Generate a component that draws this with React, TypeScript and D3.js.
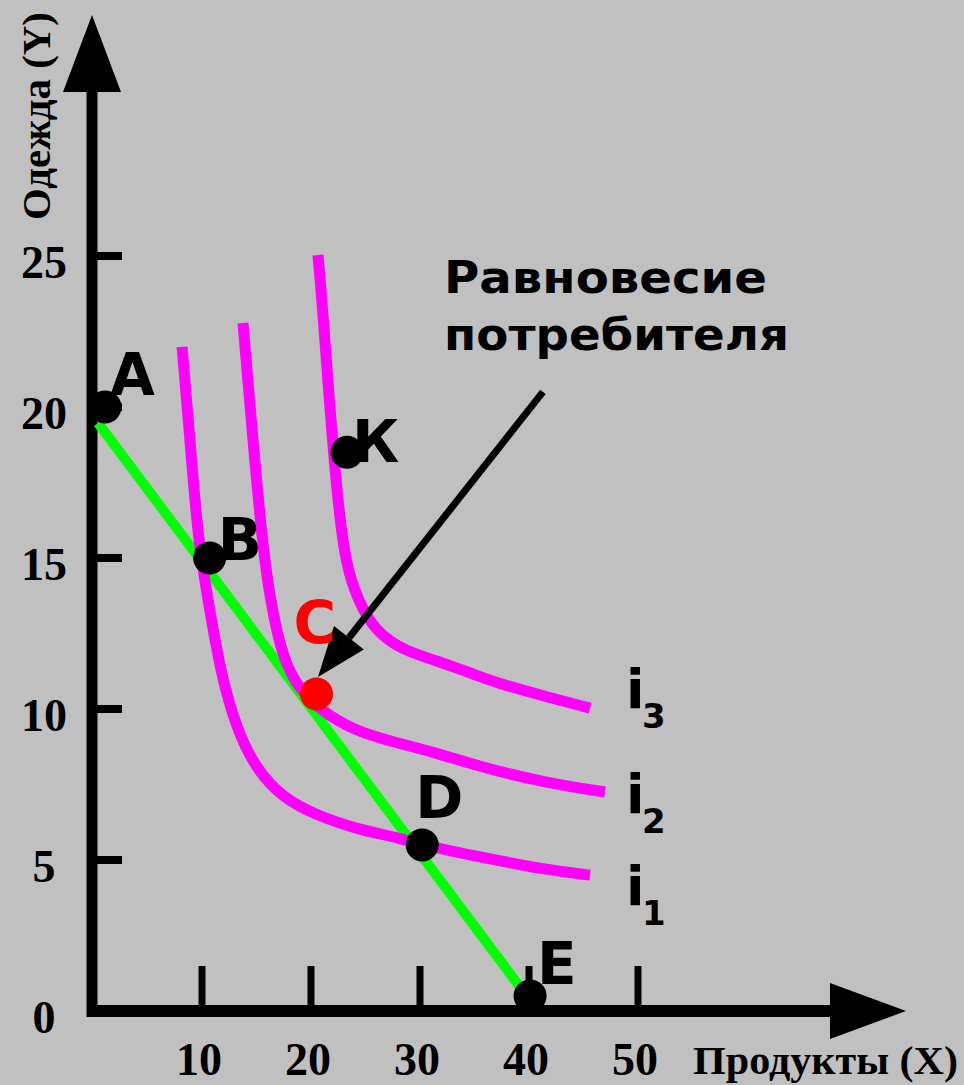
import React from "react";
import * as d3 from "d3";

// values (X = products, Y = clothes)
const xTicks = [10, 20, 30, 40, 50];
const yTicks = [0, 5, 10, 15, 20, 25];

const budgetLine = [
  { x: 0.46, y: 19.47 },
  { x: 39.72, y: 0.53 },
];

const curveI1 = [
  { x: 8.17, y: 21.99 }, { x: 8.9, y: 18.91 }, { x: 9.63, y: 15.6 },
  { x: 10.55, y: 13.61 }, { x: 11.7, y: 11.2 }, { x: 13.2, y: 9.3 },
  { x: 15.0, y: 8.0 }, { x: 17.3, y: 7.1 }, { x: 20.3, y: 6.5 },
  { x: 24.5, y: 5.99 }, { x: 28.17, y: 5.73 },
  { x: 30.18, y: 5.5 }, { x: 35.5, y: 5.1 }, { x: 41.65, y: 4.67 },
  { x: 45.6, y: 4.5 },
];
const curveI2 = [
  { x: 13.76, y: 22.78 }, { x: 14.59, y: 19.24 }, { x: 15.5, y: 15.6 },
  { x: 16.24, y: 13.61 }, { x: 17.43, y: 11.62 }, { x: 18.99, y: 10.63 },
  { x: 20.83, y: 9.97 }, { x: 23.85, y: 9.3 }, { x: 27.52, y: 8.91 },
  { x: 31.5, y: 8.55 }, { x: 35.5, y: 8.08 }, { x: 41.65, y: 7.55 },
  { x: 46.97, y: 7.25 },
];
const curveI3 = [
  { x: 20.64, y: 25.03 }, { x: 21.01, y: 23.54 }, { x: 22.02, y: 18.51 },
  { x: 22.84, y: 15.6 }, { x: 23.58, y: 14.27 }, { x: 25.14, y: 12.95 },
  { x: 26.97, y: 12.28 }, { x: 28.9, y: 11.9 }, { x: 31.5, y: 11.6 },
  { x: 34.59, y: 11.2 }, { x: 37.06, y: 10.86 }, { x: 41.65, y: 10.4 },
  { x: 45.6, y: 10.03 },
];

const pointNames = ["A", "B", "C", "D", "E", "К"];
const pointX = [1.1, 10.7, 20.5, 30.2, 40.1, 23.3];
const pointY = [20.0, 15.0, 10.5, 5.5, 0.5, 18.5];

const curveNames = ["3", "2", "1"];

const titleLines = ["Равновесие", "потребителя"];
const arrowFrom = { x: 41.28, y: 20.5 };
const arrowTo = { x: 20.64, y: 11.06 };

const xLabel = "Продукты (X)";
const yLabel = "Одежда (Y)";

// layout
const W = 964;
const H = 1085;
const serif = "'Liberation Serif', 'Times New Roman', serif";
const sans = "'DejaVu Sans', Verdana, sans-serif";
const labelOffset: Record<string, [number, number]> = {
  A: [5, -12], B: [8, 2], C: [-23, -51], D: [-7, -27], E: [7, -12], "К": [5, 10],
};
const curveLabelY = [708, 813, 905];
const titleWidths = [323, 345];

export default function App() {
  const x = d3.scaleLinear().domain([0, 50]).range([93, 638]);
  const y = d3.scaleLinear().domain([0, 25]).range([1011, 256]);

  const line = d3.line<{ x: number; y: number }>()
    .x(d => x(d.x))
    .y(d => y(d.y))
    .curve(d3.curveBasis);

  const straight = d3.line<{ x: number; y: number }>()
    .x(d => x(d.x))
    .y(d => y(d.y));

  const x0 = x(0) - 1;
  const y0 = y(0);

  // arrow towards C
  const ax1 = x(arrowFrom.x), ay1 = y(arrowFrom.y);
  const ax2 = x(arrowTo.x), ay2 = y(arrowTo.y);
  const ang = Math.atan2(ay2 - ay1, ax2 - ax1);
  const headLen = 50, headHalf = 19;
  const bx = ax2 - headLen * Math.cos(ang), by = ay2 - headLen * Math.sin(ang);
  const head = [
    [ax2, ay2],
    [bx + headHalf * Math.sin(ang), by - headHalf * Math.cos(ang)],
    [bx - headHalf * Math.sin(ang), by + headHalf * Math.cos(ang)],
  ].map(p => p.join(",")).join(" ");

  return (
    <svg width={W} height={H} style={{ position: "absolute", left: 0, top: 0 }}>
      <rect width={W} height={H} fill="#c0c0c0" />

      {/* axes */}
      <line x1={x0} x2={x0} y1={y0 + 6} y2={90} stroke="#000" strokeWidth={11} />
      <polygon points={`${x0},15 ${x0 - 29},92 ${x0 + 29},92`} fill="#000" />
      <line x1={x0 - 5} x2={832} y1={y0} y2={y0} stroke="#000" strokeWidth={12} />
      <polygon points={`906,${y0} 830,${y0 - 28} 830,${y0 + 28}`} fill="#000" />

      {yTicks.filter(t => t > 0).map(t => (
        <line key={"yt" + t} x1={x0 + 5} x2={122} y1={y(t)} y2={y(t)} stroke="#000" strokeWidth={8} />
      ))}
      {yTicks.map(t => (
        <text key={"yl" + t} x={44} y={y(t) + 22} textAnchor="middle"
          fontFamily={serif} fontWeight="bold" fontSize={46}>{t}</text>
      ))}
      {xTicks.map(t => (
        <line key={"xt" + t} x1={x(t)} x2={x(t)} y1={966} y2={y0} stroke="#000" strokeWidth={7} />
      ))}
      {xTicks.map(t => (
        <text key={"xl" + t} x={x(t) - 3} y={1075} textAnchor="middle"
          fontFamily={serif} fontWeight="bold" fontSize={46}>{t}</text>
      ))}

      <text x={693} y={1074} fontFamily={serif} fontWeight="bold" fontSize={40}
        textLength={265} lengthAdjust="spacingAndGlyphs">{xLabel}</text>
      <text transform="translate(50,220) rotate(-90)" fontFamily={serif} fontWeight="bold"
        fontSize={40} textLength={208} lengthAdjust="spacingAndGlyphs">{yLabel}</text>

      {/* budget line */}
      <path d={straight(budgetLine) || ""} fill="none" stroke="#00ff00" strokeWidth={10} />

      {/* indifference curves */}
      {[curveI3, curveI2, curveI1].map((c, i) => (
        <path key={"c" + i} d={line(c) || ""} fill="none" stroke="#ff00ff" strokeWidth={11} />
      ))}
      {curveNames.map((n, i) => (
        <g key={"cn" + n} fontFamily={sans} fontWeight="bold">
          <text x={626} y={curveLabelY[i]} fontSize={54}>i</text>
          <text x={642} y={curveLabelY[i] + 20} fontSize={34}>{n}</text>
        </g>
      ))}

      {/* arrow */}
      <line x1={ax1} y1={ay1} x2={bx} y2={by} stroke="#000" strokeWidth={7} />
      <polygon points={head} fill="#000" />
      {titleLines.map((t, i) => (
        <text key={"tl" + i} x={444} y={293 + i * 57} fontFamily={sans} fontWeight="bold" fontSize={45}
          textLength={titleWidths[i]} lengthAdjust="spacingAndGlyphs">{t}</text>
      ))}

      {/* points */}
      {pointNames.map((n, i) => {
        const px = x(pointX[i]), py = y(pointY[i]);
        const color = n === "C" ? "#ff0000" : "#000";
        const [dx, dy] = labelOffset[n];
        return (
          <g key={"p" + n}>
            <circle cx={px} cy={py} r={16.5} fill={color} />
            <text x={px + dx} y={py + dy} fill={color} fontFamily={sans} fontWeight="bold" fontSize={58}>{n}</text>
          </g>
        );
      })}
    </svg>
  );
}
